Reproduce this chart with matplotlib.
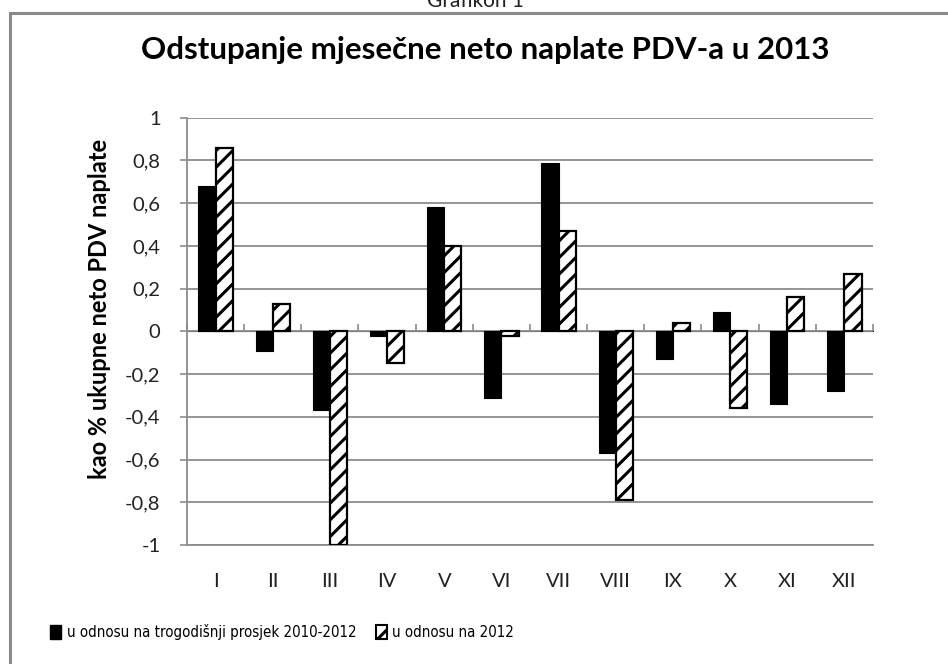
import matplotlib
matplotlib.use("Agg")
import matplotlib.pyplot as plt
from matplotlib.patches import Patch, Rectangle
from matplotlib import font_manager
import numpy as np

months = ["I", "II", "III", "IV", "V", "VI", "VII", "VIII", "IX", "X", "XI", "XII"]
vs_avg_2010_2012 = [0.68, -0.09, -0.37, -0.02, 0.58, -0.31, 0.79, -0.57, -0.13, 0.09, -0.34, -0.28]
vs_2012 = [0.86, 0.13, -1.00, -0.15, 0.40, -0.02, 0.47, -0.79, 0.04, -0.36, 0.16, 0.27]
yticks = [1, 0.8, 0.6, 0.4, 0.2, 0, -0.2, -0.4, -0.6, -0.8, -1]
ytick_labels = ["1", "0,8", "0,6", "0,4", "0,2", "0", "-0,2", "-0,4", "-0,6", "-0,8", "-1"]
label_avg = "u odnosu na trogodišnji prosjek 2010-2012"
label_2012 = "u odnosu na 2012"
title = "Odstupanje mjesečne neto naplate PDV-a u 2013"
ylabel = "kao % ukupne neto PDV naplate"
caption = "Grafikon 1"

plt.rcParams['font.family'] = ['Lato', 'DejaVu Sans']
plt.rcParams['hatch.linewidth'] = 2.2

# pick a narrow font for the legend if one is installed
legend_family = ['Lato', 'DejaVu Sans']
legend_stretch = 'normal'
names = {f.name for f in font_manager.fontManager.ttflist}
if 'Liberation Sans Narrow' in names:
    legend_family = ['Liberation Sans Narrow', 'DejaVu Sans']
elif any(f.name == 'DejaVu Sans' and f.stretch == 'condensed' for f in font_manager.fontManager.ttflist):
    legend_family = ['DejaVu Sans']
    legend_stretch = 'condensed'

W, H = 948, 664
fig = plt.figure(figsize=(W / 100, H / 100), dpi=100)
renderer = fig.canvas.get_renderer()

# fit legend font size to about the reference width of the first label
probe = fig.text(0, 0, label_avg, fontsize=14, family=legend_family, fontstretch=legend_stretch)
w = probe.get_window_extent(renderer).width
probe.remove()
legend_fs = min(15.0, 14.0 * 292.0 / w)

# outer frame
fig.patches.append(Rectangle((9.5 / W, -0.1), 1.2, 1 - 12.5 / H + 0.1,
                             transform=fig.transFigure, fill=False,
                             edgecolor='#8a8a8a', linewidth=2.2))
fig.text(475 / W, 1 - 1 / H, caption, ha='center', va='center', fontsize=15, color='#222222')

ax = fig.add_axes([187 / W, (H - 545) / H, (873 - 187) / W, (545 - 117.7) / H])
x = np.arange(len(months))
ax.bar(x - 0.15, vs_avg_2010_2012, width=0.3, color='black', edgecolor='black', linewidth=0.8, zorder=3)
ax.bar(x + 0.15, vs_2012, width=0.3, color='white', edgecolor='black', hatch='//', linewidth=1.6, zorder=3)

ax.set_xlim(-0.5, len(months) - 0.5)
ax.set_ylim(-1, 1)
ax.set_yticks(yticks)
ax.set_yticklabels(ytick_labels)
ax.yaxis.grid(True, color='#8c8c8c', linewidth=1.3, zorder=0)
ax.set_axisbelow(True)
for s in ['top', 'right']:
    ax.spines[s].set_visible(False)
ax.spines['left'].set_color('#8c8c8c')
ax.spines['left'].set_linewidth(1.3)
ax.spines['bottom'].set_color('#8c8c8c')
ax.spines['bottom'].set_linewidth(1.3)
ax.tick_params(axis='y', direction='out', length=5, width=1.2, color='#8c8c8c',
               labelsize=14.5, pad=14, labelcolor='#222222')
ax.set_xticks(x)
ax.set_xticklabels(months)
ax.tick_params(axis='x', length=0, labelsize=14.5, pad=20, labelcolor='#222222')

sec = ax.secondary_xaxis(0.5)
sec.set_xticks(np.arange(len(months) + 1) - 0.5)
sec.set_xticklabels([])
sec.tick_params(axis='x', direction='out', length=5, width=1.2, color='#8c8c8c')
sec.spines['bottom'].set_color('#8c8c8c')
sec.spines['bottom'].set_linewidth(1.3)

ax.set_ylabel(ylabel, fontsize=17, fontweight='bold', va='center')
ax.yaxis.set_label_coords((100 - 187) / 686, (545 - 309) / 427.3)
fig.text(485 / W, 1 - 50 / H, title, ha='center', va='center', fontsize=22.5, fontweight='bold')

handles = [Patch(facecolor='black', edgecolor='black'),
           Patch(facecolor='white', edgecolor='black', hatch='//', linewidth=1.5)]
fig.legend(handles, [label_avg, label_2012], loc='center left', bbox_to_anchor=(50 / W, 1 - 632 / H),
           ncol=2, frameon=False,
           prop=font_manager.FontProperties(family=legend_family, stretch=legend_stretch, size=legend_fs),
           handlelength=0.75, handleheight=1.1,
           handletextpad=0.35, columnspacing=1.3, borderaxespad=0, borderpad=0)

fig.savefig("out.png", dpi=100)
